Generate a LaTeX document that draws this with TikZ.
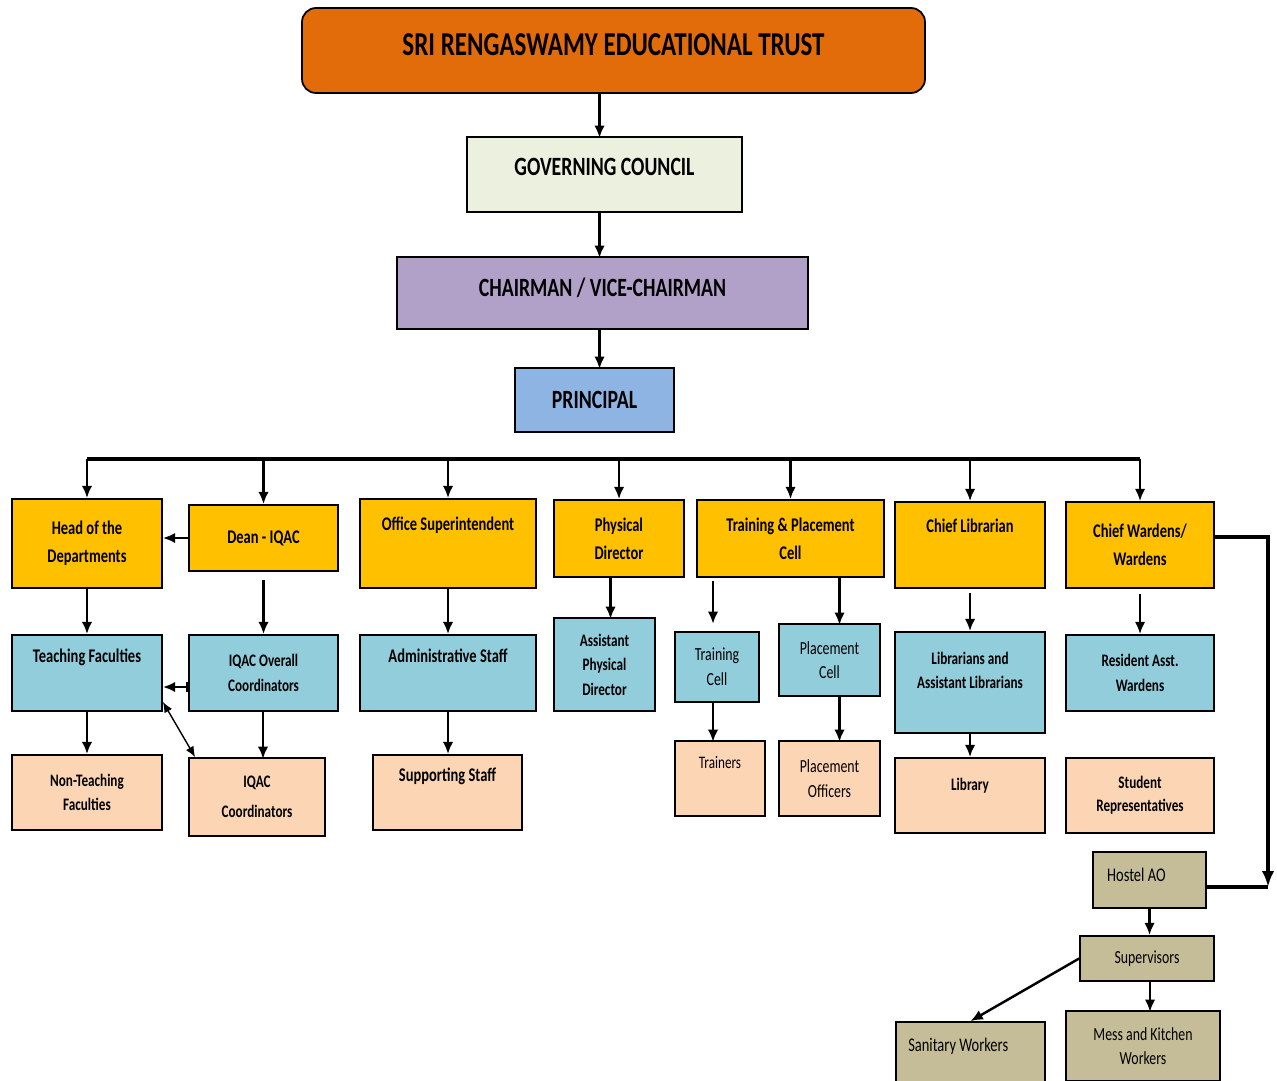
\documentclass[tikz,border=0pt]{standalone}
\usepackage{fontspec}
\setmainfont{Carlito}[FakeStretch=0.75]
\usepackage{tikz}
\usetikzlibrary{arrows.meta}

\definecolor{trustorange}{HTML}{E36C0A}
\definecolor{councilgreen}{HTML}{EBF1DE}
\definecolor{chairpurple}{HTML}{B1A0C7}
\definecolor{principalblue}{HTML}{8DB4E2}
\definecolor{headyellow}{HTML}{FFC000}
\definecolor{staffcyan}{HTML}{92CDDC}
\definecolor{supportpeach}{HTML}{FCD5B4}
\definecolor{hosteltan}{HTML}{C4BD97}

\begin{document}
\begin{tikzpicture}[x=0.02cm, y=-0.02cm,
  org/.style 2 args = {draw = black, line width = 1pt, minimum width = #1*0.02cm,
    minimum height = #2*0.02cm, inner sep = 2pt, align = center,
    font = \bfseries\fontsize{11}{14}\selectfont},
  plain/.style = {font = \fontsize{10.5}{14}\selectfont},
  link/.style = {-{Latex[length=7pt,width=6pt]}, line width = 1.4pt},
  thickline/.style = {line width = 2.5pt}]
\useasboundingbox (0,0) rectangle (1277,1081);
% top of the chart
\node[org={623}{85}, fill = trustorange, rounded corners = 8pt, font = \bfseries\fontsize{19}{7}\selectfont] (trust) at (613.5,50.5) {SRI RENGASWAMY EDUCATIONAL TRUST\\ ~};
\node[org={275}{75}, fill = councilgreen, font = \bfseries\fontsize{15}{9}\selectfont] (council) at (604.5,174.5) {GOVERNING COUNCIL\\ ~};
\node[org={411}{72}, fill = chairpurple, font = \bfseries\fontsize{15}{7}\selectfont] (chair) at (602.5,293) {CHAIRMAN / VICE-CHAIRMAN\\ ~};
\node[org={159}{64}, fill = principalblue, font = \bfseries\fontsize{15}{22}\selectfont] (principal) at (594.5,400) {PRINCIPAL};
\draw[link] (trust.south -| council.north) ++(-5,0) -- ++(0,44);
\draw[link] (council.south) ++(-5,0) -- ++(0,45);
\draw[link] (chair.south -| principal.north) ++(5,0) -- ++(0,39);
% heads
\node[org={150}{89}, fill = headyellow, font = \bfseries\fontsize{11}{16}\selectfont] (hod) at (87,543.5) {Head of the\\ Departments};
\node[org={149}{66}, fill = headyellow] (dean) at (263.5,538) {Dean - IQAC};
\node[org={176}{89}, fill = headyellow, font = \bfseries\fontsize{11}{22}\selectfont] (office) at (448,543.5) {Office Superintendent\\ ~};
\node[org={130}{77}, fill = headyellow, font = \bfseries\fontsize{11}{16}\selectfont] (pd) at (619,538.5) {Physical\\ Director};
\node[org={187}{77}, fill = headyellow, font = \bfseries\fontsize{11}{16}\selectfont] (tp) at (790.5,538.5) {Training \& Placement\\ Cell};
\node[org={150}{86}, fill = headyellow, font = \bfseries\fontsize{11}{22}\selectfont] (cl) at (970,545) {Chief Librarian\\ ~};
\node[org={148}{86}, fill = headyellow, font = \bfseries\fontsize{11}{16}\selectfont] (cw) at (1140,545) {Chief Wardens/\\ Wardens};
\coordinate (busleft) at (87,459);
\coordinate (busright) at (1140,459);
\draw[thickline] (busleft) -- (busright);
\foreach \head in {hod,dean,office,pd,tp,cl,cw}
  \draw[link] (\head.north |- busleft) -- (\head.north);
\draw[link] (dean.west) -- (hod.east |- dean.west);
% staff
\node[org={150}{76}, fill = staffcyan, font = \bfseries\fontsize{11}{20}\selectfont] (teach) at (87,673) {Teaching Faculties\\ ~};
\node[org={149}{76}, fill = staffcyan, font = \bfseries\fontsize{10}{14}\selectfont] (iqacall) at (263.5,673) {IQAC Overall\\ Coordinators};
\node[org={176}{76}, fill = staffcyan, font = \bfseries\fontsize{11}{20}\selectfont] (admin) at (448,673) {Administrative Staff\\ ~};
\node[org={101}{93}, fill = staffcyan, font = \bfseries\fontsize{10}{14}\selectfont] (apd) at (604.5,664.5) {Assistant\\ Physical\\ Director};
\node[org={84}{70}, fill = staffcyan, plain] (tcell) at (717,667) {Training\\ Cell};
\node[org={101}{72}, fill = staffcyan, plain] (pcell) at (829.5,660) {Placement\\ Cell};
\node[org={150}{101}, fill = staffcyan, font = \bfseries\fontsize{10}{14}\selectfont] (libs) at (970,682.5) {Librarians and\\ Assistant Librarians\\ ~};
\node[org={148}{76}, fill = staffcyan, font = \bfseries\fontsize{10}{14}\selectfont] (resident) at (1140,673) {Resident Asst.\\ Wardens};
\draw[link] (hod) -- (teach);
\draw[link] ([yshift=-0.16cm]dean.south) -- (iqacall.north);
\draw[link] (office) -- (admin);
\draw[link] (pd.south -| apd.north) ++(6,0) -- ++(0,41);
\draw[link] ([yshift=-0.06cm]tp.south -| tcell.north) ++(-4,0) -- ++(0,43);
\draw[link] (tp.south -| pcell.north) ++(10,0) -- ++(0,47);
\draw[link] ([yshift=-0.08cm]cl.south) -- (libs.north);
\draw[link] ([yshift=-0.1cm]cw.south) -- (resident.north);
\draw[{Bar[width=6pt]}-{Latex[length=7pt,width=6pt]}, line width = 1.4pt] ([yshift=-0.28cm]iqacall.west) -- ([yshift=-0.28cm]iqacall.west -| teach.east);
% support
\node[org={150}{75}, fill = supportpeach, font = \bfseries\fontsize{10}{14}\selectfont] (nonteach) at (87,792.5) {Non-Teaching\\ Faculties};
\node[org={136}{78}, fill = supportpeach, font = \bfseries\fontsize{10}{17}\selectfont] (iqacco) at (257,797) {IQAC\\ Coordinators};
\node[org={149}{75}, fill = supportpeach, font = \bfseries\fontsize{11}{20}\selectfont] (support) at (447.5,792.5) {Supporting Staff\\ ~};
\node[org={90}{75}, fill = supportpeach, plain, font = \fontsize{10}{18}\selectfont] (trainers) at (720,778.5) {Trainers\\ ~};
\node[org={101}{75}, fill = supportpeach, plain] (placeoff) at (829.5,778.5) {Placement\\ Officers};
\node[org={150}{75}, fill = supportpeach, font = \bfseries\fontsize{10}{13}\selectfont] (library) at (970,795.5) {Library\\ ~};
\node[org={148}{75}, fill = supportpeach, font = \bfseries\fontsize{10}{13}\selectfont] (students) at (1140,795.5) {Student\\ Representatives};
\draw[link] (teach) -- (nonteach);
\draw[link] (iqacall.south -| iqacco.north) ++(6,0) -- ++(0,47);
\draw[link] (admin.south) -- (admin.south |- support.north);
\draw[{Latex[length=6pt,width=5pt]}-{Latex[length=6pt,width=5pt]}, line width = 0.8pt] ([yshift=0.2cm]teach.south east) -- ([xshift=0.14cm]iqacco.north west);
\draw[link] (tcell.south) ++(-4,0) -- ++(0,39);
\draw[link] (pcell.south) ++(10,0) -- ++(0,45);
\draw[link] (libs) -- (library);
% hostel
\node[org={113}{56}, fill = hosteltan, plain, font = \fontsize{11}{6}\selectfont] (hostel) at (1149.5,880) {Hostel AO\hspace*{15pt}\\ ~};
\node[org={134}{45}, fill = hosteltan, plain] (supervisors) at (1147,958.5) {Supervisors};
\node[org={149}{70}, fill = hosteltan, plain, font = \fontsize{11}{14}\selectfont] (sanitary) at (970.5,1057) {Sanitary Workers\hspace*{14pt}\\ ~};
\node[org={154}{70}, fill = hosteltan, plain] (mess) at (1143,1046) {Mess and Kitchen\\ Workers};
\coordinate (hostelturn) at (1268,887);
\draw[thickline, -{Latex[length=9pt,width=7pt]}] ([yshift=0.16cm]cw.east) -| (hostelturn);
\draw[thickline] (hostel.east |- hostelturn) -- (hostelturn);
\draw[link] (hostel.south) -- (hostel.south |- supervisors.north);
\draw[link] (supervisors.west) -- (sanitary.north);
\draw[link] (supervisors.south) ++(3,0) -- ++(0,30);
\end{tikzpicture}
\end{document}
